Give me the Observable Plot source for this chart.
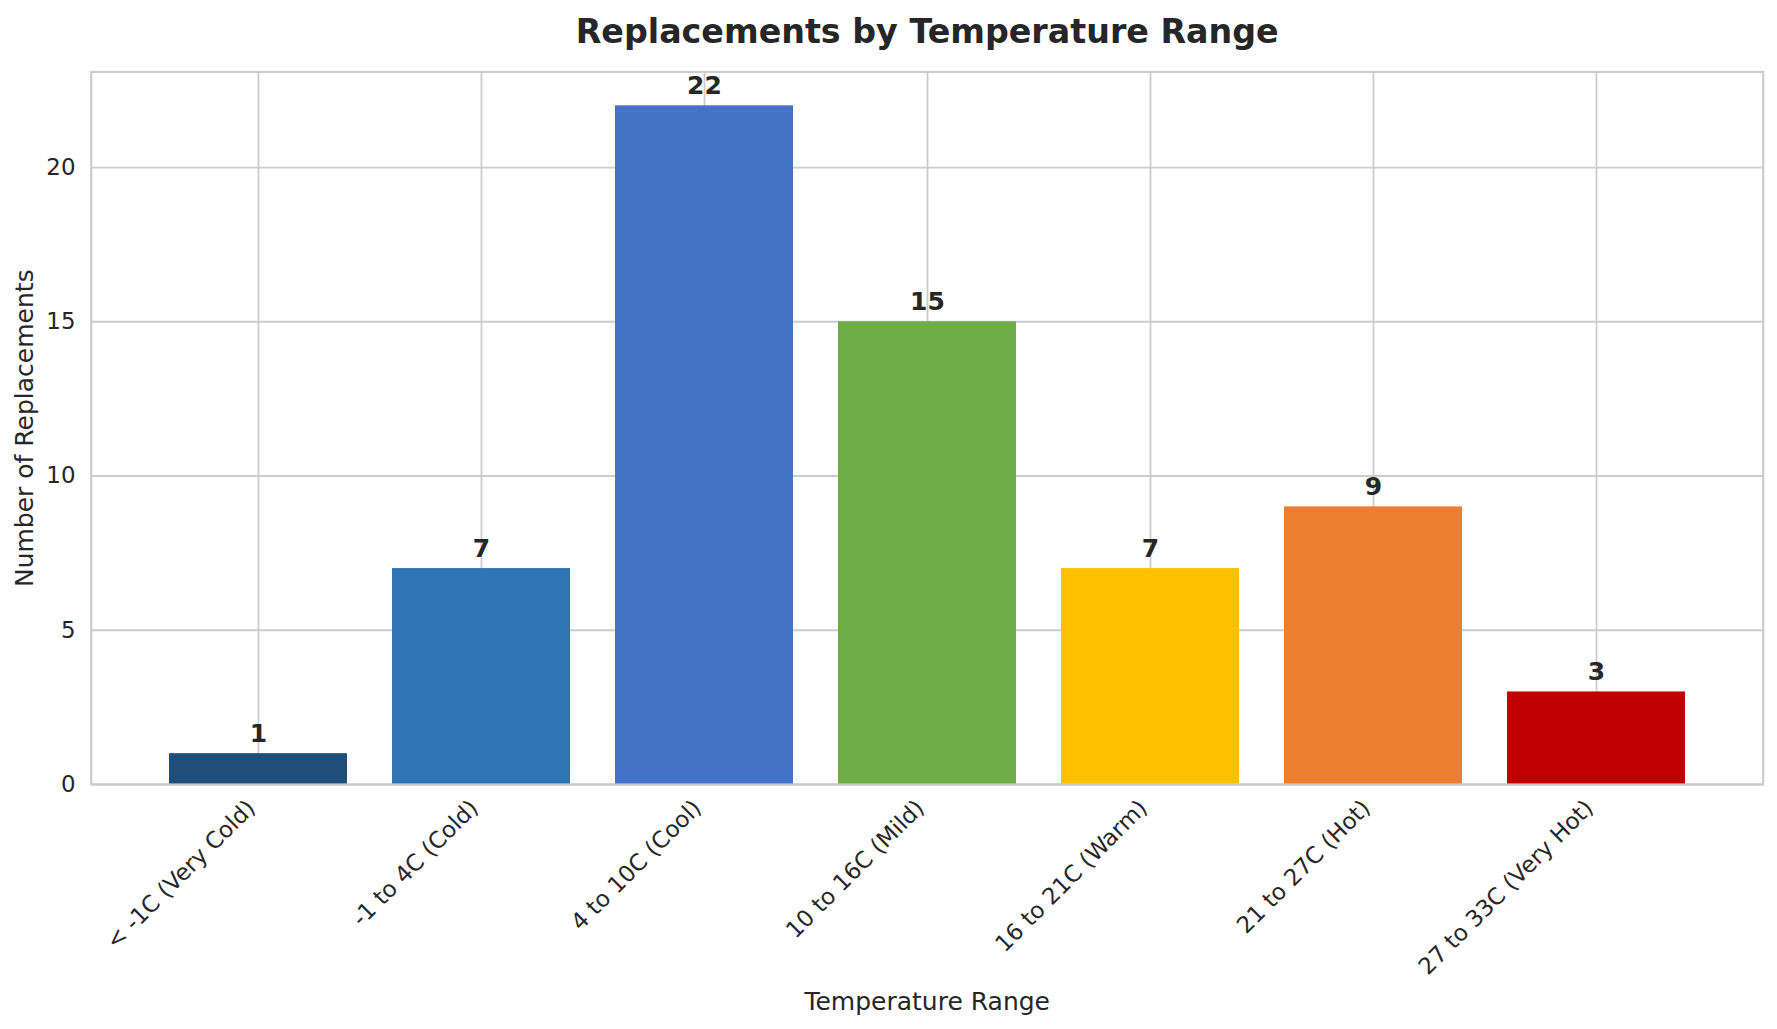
<!DOCTYPE html>
<html>
<head>
<meta charset="utf-8">
<script src="https://cdn.jsdelivr.net/npm/d3@7"></script>
<script src="https://cdn.jsdelivr.net/npm/@observablehq/plot@0.6"></script>
<style>
  html, body { margin: 0; padding: 0; background: #ffffff; }
  #chart svg { display: block; }
</style>
</head>
<body>
<div id="chart"></div>
<script>
const categories = [
  "< -1C (Very Cold)",
  "-1 to 4C (Cold)",
  "4 to 10C (Cool)",
  "10 to 16C (Mild)",
  "16 to 21C (Warm)",
  "21 to 27C (Hot)",
  "27 to 33C (Very Hot)"
];
const values = [1, 7, 22, 15, 7, 9, 3];
const colors = ["#1F4E79", "#2E75B6", "#4472C4", "#70AD47", "#FFC000", "#ED7D31", "#C00000"];
const yTicks = [0, 5, 10, 15, 20];
const titleText = "Replacements by Temperature Range";
const xLabel = "Temperature Range";
const yLabel = "Number of Replacements";

const data = categories.map((c, i) => ({category: c, value: values[i], color: colors[i]}));

const textColor = "#262626";
const gridColor = "#cccccc";

const chart = Plot.plot({
  width: 1777,
  height: 1029,
  marginLeft: 90.7,
  marginRight: 14.3,
  marginTop: 71.4,
  marginBottom: 245,
  style: {fontFamily: "DejaVu Sans", fontSize: "22.9px", color: textColor, background: "#ffffff"},
  x: {type: "band", domain: categories, paddingInner: 0.2, paddingOuter: 0.34, axis: null},
  y: {domain: [0, 23.1], axis: null},
  marks: [
    Plot.gridY(yTicks, {stroke: gridColor, strokeOpacity: 1, strokeWidth: 1.8}),
    Plot.gridX(categories, {stroke: gridColor, strokeOpacity: 1, strokeWidth: 1.8}),
    Plot.barY(data, {x: "category", y: "value", fill: "color"}),
    Plot.text(data, {
      x: "category", y: "value", text: d => String(d.value),
      dy: -11.6, lineAnchor: "bottom", fontWeight: "bold", fontSize: 25, fill: textColor
    }),
    Plot.axisY({ticks: yTicks, tickSize: 0, tickPadding: 15.7, fontSize: 22.9, label: null, fill: textColor}),
    Plot.text(categories, {
      x: d => d, text: d => d, frameAnchor: "bottom",
      rotate: -45, textAnchor: "end", lineAnchor: "bottom",
      dx: -2, dy: 25, fontSize: 22.9, fill: textColor
    }),
    Plot.text([xLabel], {text: d => d, frameAnchor: "bottom", textAnchor: "middle", dy: 225, lineAnchor: "bottom", fontSize: 25, fill: textColor}),
    Plot.text([yLabel], {text: d => d, frameAnchor: "left", textAnchor: "middle", rotate: -90, dx: -57.7, lineAnchor: "bottom", fontSize: 25, fill: textColor}),
    Plot.text([titleText], {text: d => d, frameAnchor: "top", textAnchor: "middle", dy: -29.4, lineAnchor: "bottom", fontSize: 33.3, fontWeight: "bold", fill: textColor}),
    Plot.frame({stroke: gridColor, strokeWidth: 2.2})
  ]
});
document.getElementById("chart").appendChild(chart);
</script>
</body>
</html>
